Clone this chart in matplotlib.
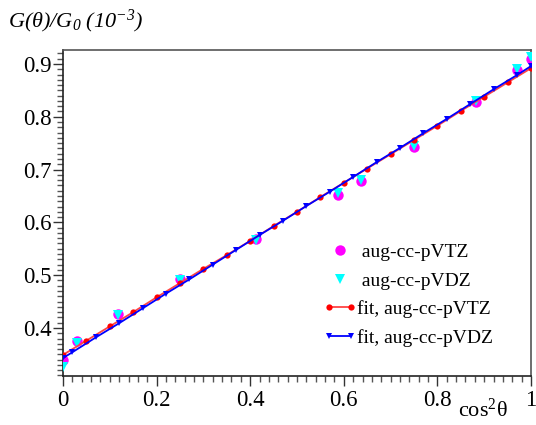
import matplotlib
matplotlib.use("Agg")
import matplotlib.pyplot as plt
from matplotlib.ticker import MultipleLocator
from matplotlib.lines import Line2D
from matplotlib.legend_handler import HandlerLine2D

plt.rcParams['font.family'] = ['Liberation Serif', 'DejaVu Serif']
plt.rcParams['mathtext.fontset'] = 'custom'
plt.rcParams['mathtext.rm'] = 'Liberation Serif:italic'
plt.rcParams['mathtext.it'] = 'Liberation Serif:italic'
plt.rcParams['mathtext.sf'] = 'Liberation Serif'

# computed ratios at sampled cos^2(theta)
cos2 = [0.0, 0.030, 0.117, 0.250, 0.413, 0.587, 0.636, 0.750, 0.883, 0.970, 1.0]
vtz = [0.339, 0.375, 0.427, 0.493, 0.568, 0.652, 0.678, 0.743, 0.828, 0.889, 0.909]
vdz = [0.326, 0.371, 0.425, 0.491, 0.567, 0.656, 0.680, 0.745, 0.830, 0.890, 0.913]

# fitted curves
fit_vtz_x = [0.0, 0.05, 0.10, 0.15, 0.20, 0.25, 0.30, 0.35, 0.40, 0.45, 0.50,
             0.55, 0.60, 0.65, 0.70, 0.75, 0.80, 0.85, 0.90, 0.95, 1.0]
fit_vtz_y = [0.349, 0.376, 0.403, 0.430, 0.458, 0.485, 0.512, 0.538, 0.565, 0.593, 0.620,
             0.648, 0.675, 0.702, 0.729, 0.756, 0.783, 0.811, 0.838, 0.865, 0.892]
fit_vdz_x = [0.0, 0.02, 0.07, 0.12, 0.17, 0.22, 0.27, 0.32, 0.37, 0.42, 0.47,
             0.52, 0.57, 0.62, 0.67, 0.72, 0.77, 0.82, 0.87, 0.92, 0.97, 1.0]
fit_vdz_y = [0.343, 0.354, 0.382, 0.409, 0.437, 0.465, 0.492, 0.520, 0.548, 0.576, 0.603,
             0.631, 0.658, 0.686, 0.714, 0.741, 0.769, 0.796, 0.824, 0.852, 0.879, 0.896]

fig = plt.figure(figsize=(5.36, 4.25), dpi=100)
ax = fig.add_axes([0.1175, 0.1153, 0.8732, 0.7671])

ax.plot(cos2, vtz, linestyle='none', marker='o', markersize=7.5,
        color='#ff00ff', markeredgewidth=0, zorder=3)
ax.plot(cos2, vdz, linestyle='none', marker='v', markersize=7.5,
        color='#00ffff', markeredgewidth=0, zorder=4)
ax.plot(fit_vtz_x, fit_vtz_y, color='#ff4444', linewidth=1.3,
        marker='o', markersize=4.5, markerfacecolor='#ff0000',
        markeredgewidth=0, zorder=5)
ax.plot(fit_vdz_x, fit_vdz_y, color='#0000ff', linewidth=1.3,
        marker='v', markersize=5, markerfacecolor='#0000ff',
        markeredgewidth=0, zorder=6)

ax.set_xlim(0, 1)
ax.set_ylim(0.309, 0.9265)

ax.xaxis.set_minor_locator(MultipleLocator(0.02))
ax.yaxis.set_minor_locator(MultipleLocator(0.01))
ax.set_xticks([0, 0.2, 0.4, 0.6, 0.8, 1.0])
ax.set_xticklabels(['0', '0.2', '0.4', '0.6', '0.8', '1'])
ax.set_yticks([0.4, 0.5, 0.6, 0.7, 0.8, 0.9])
ax.set_yticklabels(['0.4', '0.5', '0.6', '0.7', '0.8', '0.9'])

ax.tick_params(axis='both', which='major', direction='out', length=7,
               width=1, color='#333333', labelsize=16.5)
ax.tick_params(axis='both', which='minor', direction='out', length=4,
               width=1, color='#555555')
ax.tick_params(axis='x', which='major', pad=3)
ax.tick_params(axis='y', which='major', pad=1)

for side in ('left', 'bottom'):
    ax.spines[side].set_color('#222222')
    ax.spines[side].set_linewidth(1.2)
for side in ('top', 'right'):
    ax.spines[side].set_color('#555555')
    ax.spines[side].set_linewidth(1.2)

handles = [
    Line2D([], [], linestyle='none', marker='o', markersize=7.5,
           color='#ff00ff', markeredgewidth=0),
    Line2D([], [], linestyle='none', marker='v', markersize=7.5,
           color='#00ffff', markeredgewidth=0),
    Line2D([], [], color='#ff4444', linewidth=1.3, marker='o', markersize=4.5,
           markerfacecolor='#ff0000', markeredgewidth=0),
    Line2D([], [], color='#0000ff', linewidth=1.3, marker='v', markersize=5,
           markerfacecolor='#0000ff', markeredgewidth=0),
]
labels = [' aug-cc-pVTZ', ' aug-cc-pVDZ', 'fit, aug-cc-pVTZ', 'fit, aug-cc-pVDZ']
ax.legend(handles, labels, loc='lower left', bbox_to_anchor=(0.556, 0.09),
          frameon=False, fontsize=14, handlelength=1.75, handletextpad=0.0,
          labelspacing=0.55, borderaxespad=0, borderpad=0,
          handler_map={handles[0]: HandlerLine2D(numpoints=1),
                       handles[1]: HandlerLine2D(numpoints=1),
                       handles[2]: HandlerLine2D(numpoints=2),
                       handles[3]: HandlerLine2D(numpoints=2)})

fig.text(0.015, 0.935, r'$G(\theta)/G_0\ (10^{-3})$', fontsize=16,
         ha='left', va='baseline')
fig.text(0.948, 0.008, r'$\mathsf{cos^{2}\theta}$', fontsize=16,
         ha='right', va='bottom')

fig.savefig('out.png', dpi=100)
